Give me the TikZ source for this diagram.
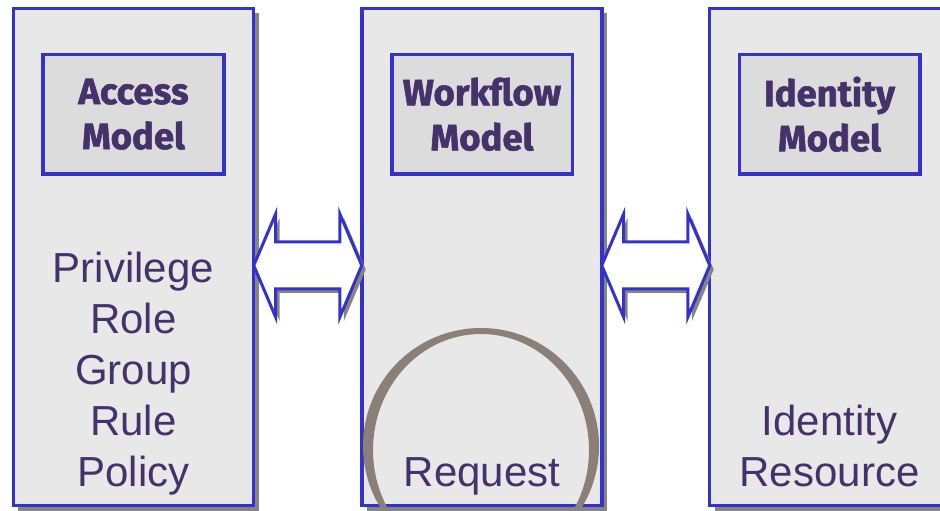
\documentclass[tikz,border=0pt]{standalone}
\usepackage{fontspec}
\setmainfont{Liberation Sans}
\newfontfamily\headfont{Fira Sans}[BoldFeatures={FakeBold=1.6}]
\usepackage{tikz}
\usetikzlibrary{positioning, calc, shapes.arrows, shadows}
\definecolor{EdgeBlue}{HTML}{3333CC}
\definecolor{PanelGray}{HTML}{E8E8E8}
\definecolor{TitleGray}{HTML}{DCDCDC}
\definecolor{InkPurple}{HTML}{46326B}
\definecolor{RingBrown}{HTML}{8A8078}
\definecolor{ShadeGray}{HTML}{858585}

\begin{document}
\begin{tikzpicture}[x=1bp, y=-1bp,
            colbox/.style={draw=EdgeBlue, line width=3.5bp, fill=PanelGray, minimum width=240bp, minimum height=497bp, inner sep=0pt, drop shadow={shadow xshift=5bp, shadow yshift=-5bp, fill=ShadeGray, opacity=1}},
            modelbox/.style={draw=EdgeBlue, line width=3.5bp, fill=TitleGray, minimum width=180.5bp, minimum height=119.5bp, text=InkPurple, align=center, font=\headfont\bfseries\fontsize{36.5bp}{45bp}\selectfont},
            itemtext/.style={text=InkPurple, align=center, inner sep=0pt, text depth=15bp, font=\fontsize{42bp}{51bp}\selectfont},
            linkarrow/.style={double arrow, draw=EdgeBlue, line width=3bp, fill=white, text height=44bp, text depth=0pt, minimum height=108bp, double arrow head extend=28bp, double arrow tip angle=134, inner sep=0pt, drop shadow={shadow xshift=4bp, shadow yshift=-4bp, fill=ShadeGray, opacity=1}}
        ]
            \useasboundingbox (0,0) rectangle (940,511);
            
            \node[colbox] (colA) at (133.5,257) {};
            \node[colbox, right=105bp of colA] (colW) {};
            \node[colbox, right=104bp of colW] (colI) {};
            
            % brush ring behind the request
            \begin{scope}
                \clip (colW.south west) rectangle (colW.north east);
                \coordinate (ringW) at ($(colW.center)+(-1,189)$);
                \fill[RingBrown, even odd rule] (ringW) circle [radius=118] ($(ringW)+(0,4)$) ellipse [x radius=108, y radius=116];
            \end{scope}
            
            \node[modelbox, below=46bp of colA.north] (modelA) {Access\\Model};
            \node[modelbox, below=46bp of colW.north] (modelW) {Workflow\\Model};
            \node[modelbox, below=46bp of colI.north] (modelI) {Identity\\Model};
            
            \node[itemtext, above=6bp of colA.south] (itemsA) {Privilege\\Role\\Group\\Rule\\Policy};
            \node[itemtext, above=6bp of colW.south] (itemsW) {Request};
            \node[itemtext, above=6bp of colI.south] (itemsI) {Identity\\Resource};
            
            \node[linkarrow] (linkAW) at ($(colA.east)!0.5!(colW.west)+(0,8.5)$) {};
            \node[linkarrow] (linkWI) at ($(colW.east)!0.5!(colI.west)+(0,8.5)$) {};
            
        \end{tikzpicture}
\end{document}
